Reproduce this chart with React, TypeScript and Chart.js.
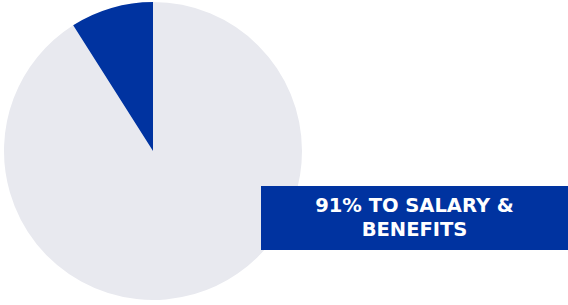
import React, { useEffect, useRef } from "react";
import { Chart, registerables } from "chart.js";

Chart.register(...registerables);

const categories = ["Salary & Benefits", "Other"];
const values = [91, 9];
const colors = ["#E8E9EF", "#0033A0"];
const labelLines = ["91% TO SALARY &", "BENEFITS"];

export default function App() {
  const ref = useRef<HTMLCanvasElement | null>(null);
  useEffect(() => {
    if (!ref.current) return;
    const chart = new Chart(ref.current, {
      type: "pie",
      data: {
        labels: categories,
        datasets: [{ data: values, backgroundColor: colors, borderWidth: 0 }],
      },
      options: {
        animation: false,
        responsive: false,
        maintainAspectRatio: false,
        layout: { padding: { left: 4, top: 2, right: 266, bottom: 5 } },
        plugins: { legend: { display: false }, tooltip: { enabled: false } },
      },
    });
    return () => chart.destroy();
  }, []);
  return (
    <div style={{ position: "fixed", left: 0, top: 0, width: 568, height: 305, background: "#fff" }}>
      <canvas ref={ref} width={568} height={305} style={{ position: "absolute", left: 0, top: 0, width: 568, height: 305 }} />
      <div
        style={{
          position: "absolute",
          left: 261,
          top: 186,
          width: 307,
          height: 64,
          background: "#0033A0",
          color: "#fff",
          fontFamily: "'DejaVu Sans', sans-serif",
          fontWeight: 700,
          fontSize: 19.5,
          lineHeight: "24px",
          textAlign: "center",
          display: "flex",
          flexDirection: "column",
          justifyContent: "center",
        }}
      >
        {labelLines.map((l) => (
          <div key={l}>{l}</div>
        ))}
      </div>
    </div>
  );
}
